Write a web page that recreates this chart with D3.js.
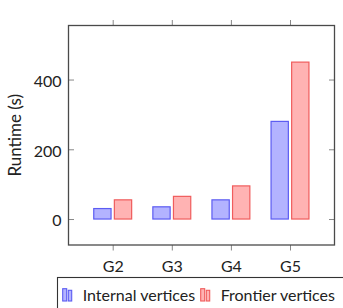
<!DOCTYPE html>
<html>
<head>
<meta charset="utf-8">
<script src="https://cdn.jsdelivr.net/npm/d3@7"></script>
<style>
  body { margin: 0; background: #fff; }
  svg text { font-family: Lato, "DejaVu Sans", sans-serif; fill: #222; }
</style>
</head>
<body>
<script>
const graphs = ["G2", "G3", "G4", "G5"];
const internalVals = [30, 35, 55, 280];
const frontierVals = [55, 65, 95, 450];
const yTicks = [0, 200, 400];
const seriesNames = ["Internal vertices", "Frontier vertices"];

const width = 343, height = 308;
const plot = { left: 68.5, right: 334.5, top: 25.5, bottom: 245 };

const series = [
    { name: seriesNames[0], values: internalVals, fill: "#b3b3ff", stroke: "#5c5cf2", shift: -10.3 },
    { name: seriesNames[1], values: frontierVals, fill: "#ffb3b3", stroke: "#f05c5c", shift: 10.3 }
];
const barWidth = 17.3;

const svg = d3.select("body").append("svg")
    .attr("width", width)
    .attr("height", height);

const xScale = d3.scalePoint()
    .domain(graphs)
    .range([112.7, 290]);

const yScale = d3.scaleLinear()
    .domain([-74.5, 555])
    .range([plot.bottom, plot.top]);

// bars
series.forEach(s => {
    svg.append("g").selectAll("rect")
        .data(s.values)
        .enter()
        .append("rect")
        .attr("x", (d, i) => xScale(graphs[i]) + s.shift - barWidth / 2)
        .attr("y", d => yScale(d))
        .attr("width", barWidth)
        .attr("height", d => yScale(0) - yScale(d))
        .attr("fill", s.fill)
        .attr("stroke", s.stroke)
        .attr("stroke-width", 1.2);
});

// axes: x ticks outside, y ticks inside
const xAxis = d3.axisBottom(xScale).tickSize(5.5).tickSizeOuter(0);
const gx = svg.append("g")
    .attr("transform", "translate(0," + plot.bottom + ")")
    .call(xAxis);
gx.select(".domain").remove();
gx.selectAll("line").attr("stroke", "#888");
gx.selectAll("text").attr("dy", null).attr("y", 26.8)
    .style("font-size", "16px").style("fill", "#222");

const gxTop = svg.append("g")
    .attr("transform", "translate(0," + plot.top + ")")
    .call(d3.axisTop(xScale).tickSize(5.5).tickFormat(""));
gxTop.select(".domain").remove();
gxTop.selectAll("line").attr("stroke", "#888");

const yAxis = d3.axisLeft(yScale).tickValues(yTicks).tickSize(-5.5).tickPadding(7);
const gy = svg.append("g")
    .attr("transform", "translate(" + plot.left + ",0)")
    .call(yAxis);
gy.select(".domain").remove();
gy.selectAll("line").attr("stroke", "#888");
gy.selectAll("text").attr("x", -7).attr("dy", "0.42em")
    .style("font-size", "16px").style("fill", "#222");

const gyRight = svg.append("g")
    .attr("transform", "translate(" + plot.right + ",0)")
    .call(d3.axisRight(yScale).tickValues(yTicks).tickSize(-5.5).tickFormat(""));
gyRight.select(".domain").remove();
gyRight.selectAll("line").attr("stroke", "#888");

// frame
svg.append("rect")
    .attr("x", plot.left)
    .attr("y", plot.top)
    .attr("width", plot.right - plot.left)
    .attr("height", plot.bottom - plot.top)
    .attr("fill", "none")
    .attr("stroke", "#4a4a4a")
    .attr("stroke-width", 1.3);

// y label
svg.append("text")
    .attr("transform", "translate(20.5," + (plot.top + plot.bottom) / 2 + ") rotate(-90)")
    .attr("text-anchor", "middle")
    .style("font-size", "17px")
    .text("Runtime (s)");

// legend
const legend = svg.append("g");
legend.append("rect")
    .attr("x", 57.5)
    .attr("y", 277.5)
    .attr("width", 300)
    .attr("height", 40)
    .attr("fill", "#fff")
    .attr("stroke", "#333")
    .attr("stroke-width", 1.1);

const legendX = [62.7, 200.7];
series.forEach((s, i) => {
    const x0 = legendX[i];
    [[0, 4, 12.3], [5.6, 3.4, 10.7]].forEach(b => {
        legend.append("rect")
            .attr("x", x0 + b[0])
            .attr("y", 301 - b[2])
            .attr("width", b[1])
            .attr("height", b[2])
            .attr("fill", s.fill)
            .attr("stroke", s.stroke)
            .attr("stroke-width", 1.1);
    });
    legend.append("text")
        .attr("x", x0 + 20)
        .attr("y", 301)
        .style("font-size", "16px")
        .text(s.name);
});
</script>
</body>
</html>
